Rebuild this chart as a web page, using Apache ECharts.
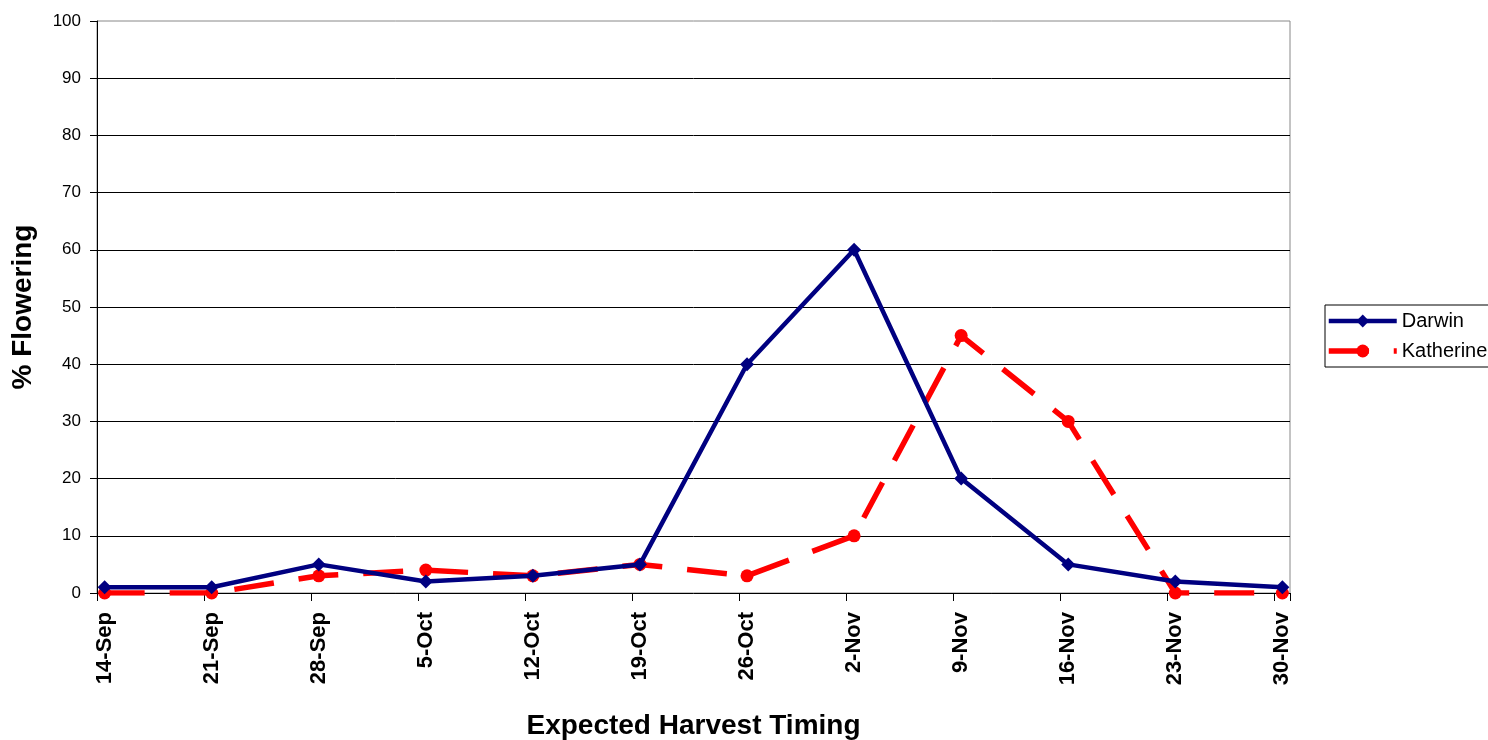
<!DOCTYPE html>
<html>
<head>
<meta charset="utf-8">
<script src="https://cdn.jsdelivr.net/npm/echarts@6/dist/echarts.min.js"></script>
<style>
html,body{margin:0;padding:0;background:#fff;}
#chart{width:1488px;height:740px;}
</style>
</head>
<body>
<div id="chart"></div>
<script>
// Weekly dates (labels) and values
const categories = ['14-Sep','21-Sep','28-Sep','5-Oct','12-Oct','19-Oct','26-Oct','2-Nov','9-Nov','16-Nov','23-Nov','30-Nov'];
const darwin    = [1, 1, 5, 2, 3, 5, 40, 60, 20, 5, 2, 1];
const katherine = [0, 0, 3, 4, 3, 5, 3, 10, 45, 30, 0, 0];
const yTicks = [0,10,20,30,40,50,60,70,80,90,100];
const DAYS_PER_STEP = 7;

// The original is a daily date axis: build one slot per day, weekly values on every 7th day
const nDays = (categories.length - 1) * DAYS_PER_STEP + 1;
const dayLabels = [];
for (let d = 0; d < nDays; d++) {
  dayLabels.push(d % DAYS_PER_STEP === 0 ? categories[d / DAYS_PER_STEP] : '');
}
function toDaily(values) {
  const out = new Array(nDays).fill(null);
  values.forEach((v, i) => { out[i * DAYS_PER_STEP] = v; });
  return out;
}

const FONT = '"Liberation Sans", Arial, sans-serif';
const chart = echarts.init(document.getElementById('chart'), null, {renderer: 'canvas'});
chart.setOption({
  animation: false,
  backgroundColor: '#ffffff',
  textStyle: {fontFamily: FONT},
  grid: {
    left: 97, right: 198, top: 21, bottom: 147,
    containLabel: false,
    outerBoundsMode: 'none',
    show: true, borderColor: '#888888', borderWidth: 1, backgroundColor: 'transparent'
  },
  legend: {
    orient: 'vertical',
    left: 1325, top: 305,
    padding: [6, 12, 6, 1],
    itemGap: 10,
    itemWidth: 68, itemHeight: 16,
    borderColor: '#000000', borderWidth: 1,
    backgroundColor: '#ffffff',
    textStyle: {fontFamily: FONT, fontSize: 20, color: '#000'},
    data: [
      {name: 'Darwin', lineStyle: {width: 4.5}},
      {name: 'Katherine', lineStyle: {width: 5.5}}
    ]
  },
  xAxis: {
    type: 'category',
    data: dayLabels,
    boundaryGap: true,
    name: 'Expected Harvest Timing',
    nameLocation: 'middle',
    nameGap: 119,
    nameTextStyle: {fontFamily: FONT, fontSize: 28, fontWeight: 'bold', color: '#000'},
    axisLine: {show: true, lineStyle: {color: '#000', width: 1}},
    axisTick: {show: true, interval: DAYS_PER_STEP - 1, length: 8, lineStyle: {color: '#000'}},
    axisLabel: {
      interval: DAYS_PER_STEP - 1, rotate: 90, margin: 19,
      fontFamily: FONT, fontSize: 22, fontWeight: 'bold', color: '#000'
    },
    splitLine: {show: false}
  },
  yAxis: {
    type: 'value',
    min: yTicks[0], max: yTicks[yTicks.length - 1], interval: 10,
    name: '% Flowering',
    nameLocation: 'middle',
    nameGap: 60,
    nameTextStyle: {fontFamily: FONT, fontSize: 28, fontWeight: 'bold', color: '#000'},
    axisLine: {show: true, lineStyle: {color: '#000', width: 1}},
    axisTick: {show: true, length: 7, lineStyle: {color: '#000'}},
    axisLabel: {margin: 16, fontFamily: FONT, fontSize: 17, color: '#000'},
    splitLine: {show: true, showMinLine: false, showMaxLine: false, lineStyle: {color: '#000', width: 1}}
  },
  series: [
    {
      name: 'Darwin',
      type: 'line',
      data: toDaily(darwin),
      connectNulls: true,
      symbol: 'diamond',
      symbolSize: 14,
      color: '#000080',
      itemStyle: {color: '#000080'},
      lineStyle: {color: '#000080', width: 4.5},
      z: 3
    },
    {
      name: 'Katherine',
      type: 'line',
      data: toDaily(katherine),
      connectNulls: true,
      symbol: 'circle',
      symbolSize: 13,
      color: '#ff0000',
      itemStyle: {color: '#ff0000'},
      lineStyle: {color: '#ff0000', width: 5.5, type: [40, 25]},
      z: 2
    }
  ]
});
</script>
</body>
</html>
